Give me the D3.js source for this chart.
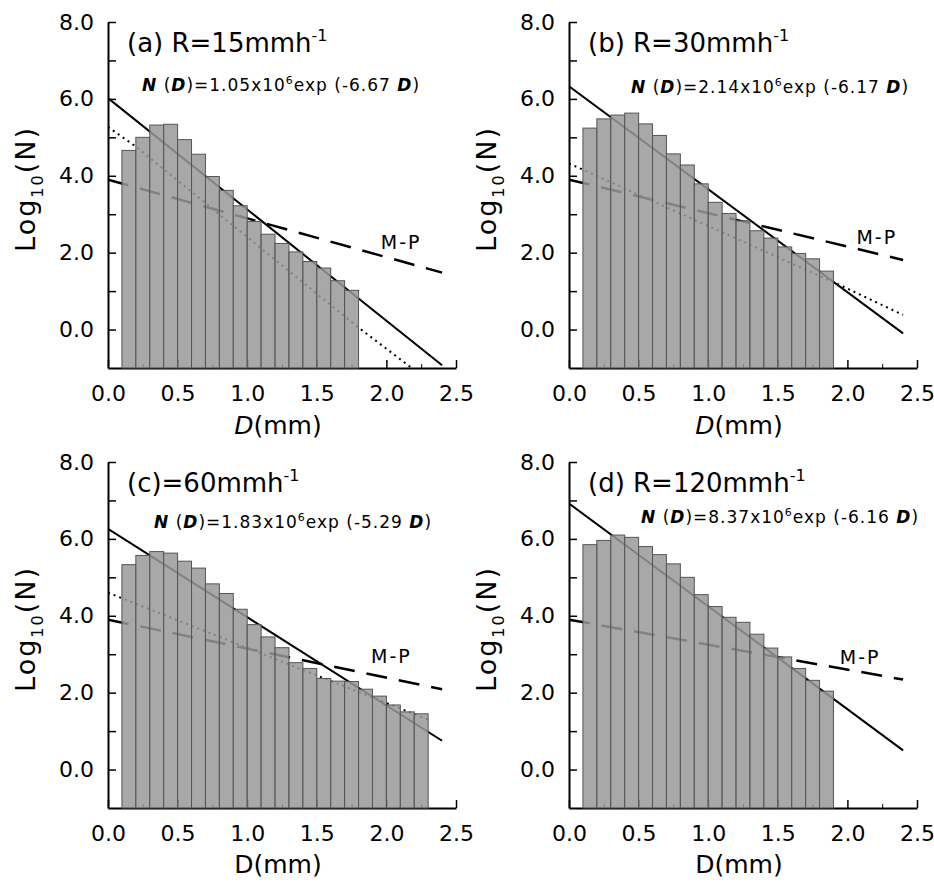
<!DOCTYPE html>
<html>
<head>
<meta charset="utf-8">
<script src="https://cdn.jsdelivr.net/npm/d3@7"></script>
<style>
body { margin: 0; background: #fff; }
svg { font-family: "DejaVu Sans", sans-serif; }
</style>
</head>
<body>
<div id="chart"></div>
<script>
// ============ data ============
// drop size bins are 0.1 mm wide, first bin starts at D = 0.1 mm
var binStart = 0.1, binWidth = 0.1;

// log10(N) per bin
var barsA = [4.66, 5.0, 5.32, 5.34, 4.94, 4.56, 3.98, 3.62, 3.22, 2.81, 2.48, 2.24, 2.02, 1.77, 1.6, 1.27, 1.02];
var barsB = [5.24, 5.48, 5.58, 5.63, 5.35, 5.05, 4.57, 4.28, 3.79, 3.31, 3.02, 2.83, 2.57, 2.38, 2.15, 1.98, 1.84, 1.52];
var barsC = [5.33, 5.57, 5.67, 5.63, 5.42, 5.24, 4.83, 4.58, 4.17, 3.77, 3.45, 3.17, 2.78, 2.63, 2.37, 2.3, 2.29, 2.09, 1.91, 1.68, 1.5, 1.45];
var barsD = [5.85, 5.96, 6.1, 6.04, 5.8, 5.59, 5.35, 5.0, 4.55, 4.24, 3.96, 3.83, 3.52, 3.16, 2.93, 2.63, 2.32, 2.04];

// fitted exponential (solid), [D, log10 N]
var fitA = [[0, 6.02], [2.4, -0.93]];
var fitB = [[0, 6.33], [2.4, -0.10]];
var fitC = [[0, 6.26], [2.4, 0.75]];
var fitD = [[0, 6.92], [2.4, 0.50]];

// Marshall-Palmer (dashed)
var mpA = [[0, 3.9], [2.4, 1.48]];
var mpB = [[0, 3.9], [2.4, 1.81]];
var mpC = [[0, 3.9], [2.4, 2.09]];
var mpD = [[0, 3.9], [2.4, 2.34]];

// dotted curve
var dotA = [[0, 5.27], [0.2, 4.76], [1.8, 0.05], [2.2, -1.05]];
var dotB = [[0, 4.32], [1.95, 1.15], [2.4, 0.38]];
var dotC = [[0, 4.6], [2.3, 1.3]];
var dotD = [];

var titles = ["(a) R=15mmh", "(b) R=30mmh", "(c)=60mmh", "(d) R=120mmh"];
var coefs = ["1.05", "2.14", "1.83", "8.37"];
var rates = ["-6.67", "-6.17", "-5.29", "-6.16"];
var mpLabel = [[1.96, 2.09], [2.065, 2.22], [1.89, 2.78], [1.945, 2.75]];

var xTicks = [0, 0.5, 1, 1.5, 2, 2.5];
var xMinor = [0.25, 0.75, 1.25, 1.75, 2.25];
var yTicks = [0, 1, 2, 3, 4, 5, 6, 7, 8];

// ============ layout ============
var svg = d3.select("#chart").append("svg")
    .attr("width", 934)
    .attr("height", 884);

var pw = 348, ph = 346;

var panels = [
    {x: 108, y: 22, bars: barsA, fit: fitA, mp: mpA, dot: dotA, eq: [34, 69], italicD: true},
    {x: 569, y: 22, bars: barsB, fit: fitB, mp: mpB, dot: dotB, eq: [62, 71], italicD: true},
    {x: 108, y: 462, bars: barsC, fit: fitC, mp: mpC, dot: dotC, eq: [46, 66], italicD: false},
    {x: 569, y: 462, bars: barsD, fit: fitD, mp: mpD, dot: dotD, eq: [72, 61], italicD: false}
];

var x = d3.scaleLinear().domain([0, 2.5]).range([0, pw]);
var y = d3.scaleLinear().domain([-1, 8]).range([ph, 0]);

var line = d3.line()
    .x(function(d) { return x(d[0]); })
    .y(function(d) { return y(d[1]); });

panels.forEach(function(p, i) {
    var g = svg.append("g").attr("transform", "translate(" + p.x + "," + p.y + ")");

    g.append("clipPath").attr("id", "clip" + i)
        .append("rect").attr("width", pw).attr("height", ph);

    // axes
    var yAxis = g.append("g")
        .call(d3.axisLeft(y).tickValues(yTicks).tickSize(-8).tickSizeOuter(0).tickPadding(14)
            .tickFormat(function(d) { return d % 2 === 0 ? d3.format(".1f")(d) : ""; }));
    var xAxis = g.append("g")
        .attr("transform", "translate(0," + ph + ")")
        .call(d3.axisBottom(x).tickValues(xTicks).tickSize(-8).tickSizeOuter(0).tickPadding(17)
            .tickFormat(d3.format(".1f")));
    g.append("g")
        .attr("transform", "translate(0," + ph + ")")
        .call(d3.axisBottom(x).tickValues(xMinor).tickSize(-4).tickSizeOuter(0).tickFormat(""))
        .select(".domain").remove();

    [yAxis, xAxis].forEach(function(a) {
        a.select(".domain").attr("stroke-width", 2);
        a.selectAll(".tick line").attr("stroke-width", 1.5);
        a.selectAll("text").attr("font-size", 22).attr("fill", "#000")
            .attr("font-family", "DejaVu Sans");
    });

    // curves (drawn under the bars so they show faintly through them)
    var curves = g.append("g").attr("clip-path", "url(#clip" + i + ")");
    curves.append("path").datum(p.fit).attr("d", line)
        .attr("fill", "none").attr("stroke", "#000").attr("stroke-width", 2);
    curves.append("path").datum(p.mp).attr("d", line)
        .attr("fill", "none").attr("stroke", "#000").attr("stroke-width", 2.5)
        .attr("stroke-dasharray", "21,12");
    if (p.dot.length) {
        curves.append("path").datum(p.dot).attr("d", line)
            .attr("fill", "none").attr("stroke", "#000").attr("stroke-width", 2)
            .attr("stroke-dasharray", "2,4");
    }

    // bars
    g.append("g").selectAll("rect")
        .data(p.bars)
        .enter().append("rect")
        .attr("x", function(d, k) { return x(binStart + k * binWidth); })
        .attr("y", function(d) { return y(d); })
        .attr("width", x(binWidth) - x(0))
        .attr("height", function(d) { return y(-1) - y(d); })
        .attr("fill", "#999")
        .attr("fill-opacity", 0.85)
        .attr("stroke", "#555")
        .attr("stroke-width", 1);

    // title
    var t = g.append("text").attr("x", 19).attr("y", 30).attr("font-size", 26);
    t.append("tspan").text(titles[i]);
    t.append("tspan").attr("font-size", 16).attr("dy", -11).text("-1");

    // equation
    var e = g.append("text").attr("x", p.eq[0]).attr("y", p.eq[1])
        .attr("font-size", 17).attr("letter-spacing", 1);
    e.append("tspan").attr("font-style", "italic").attr("font-weight", "bold").text("N");
    e.append("tspan").text(" (");
    e.append("tspan").attr("font-style", "italic").attr("font-weight", "bold").text("D");
    e.append("tspan").text(")=" + coefs[i] + "x10");
    e.append("tspan").attr("font-size", 11).attr("dy", -7).text("6");
    e.append("tspan").attr("dy", 7).text("exp (" + rates[i] + " ");
    e.append("tspan").attr("font-style", "italic").attr("font-weight", "bold").text("D");
    e.append("tspan").text(")");

    // M-P label
    g.append("text")
        .attr("x", x(mpLabel[i][0]))
        .attr("y", y(mpLabel[i][1]))
        .attr("font-size", 19)
        .attr("letter-spacing", 2)
        .text("M-P");

    // axis titles
    var yl = g.append("text")
        .attr("transform", "translate(-73," + (ph / 2 - 6) + ") rotate(-90)")
        .attr("text-anchor", "middle")
        .attr("font-size", 27)
        .attr("letter-spacing", 2);
    yl.append("tspan").text("Log");
    yl.append("tspan").attr("font-size", 16).attr("dy", 8).text("10");
    yl.append("tspan").attr("dy", -8).text("(N)");

    var xl = g.append("text")
        .attr("x", pw / 2 - 4)
        .attr("y", ph + (i < 2 ? 66 : 65))
        .attr("text-anchor", "middle")
        .attr("font-size", 25);
    xl.append("tspan").attr("font-style", p.italicD ? "italic" : "normal").text("D");
    xl.append("tspan").text("(mm)");
});
</script>
</body>
</html>
